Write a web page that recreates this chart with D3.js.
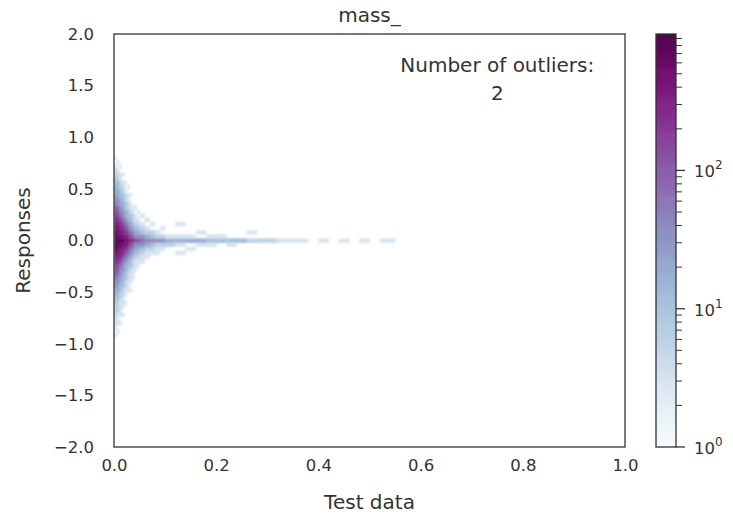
<!DOCTYPE html>
<html>
<head>
<meta charset="utf-8">
<script src="https://cdn.jsdelivr.net/npm/d3@7.9.0/dist/d3.min.js"></script>
<style>
  body { margin: 0; background: #fff; }
  svg text { font-family: "DejaVu Sans", sans-serif; fill: #333; }
</style>
</head>
<body>
<svg width="733" height="518"></svg>
<script>
// 2D histogram: bin edges along x, rows of 0.04 centred on y = 0
const xEdges = [0, 0.005, 0.01, 0.015, 0.02, 0.025, 0.03, 0.035, 0.04, 0.045, 0.05,
  0.06, 0.07, 0.08, 0.09, 0.1, 0.12, 0.14, 0.16, 0.18, 0.2, 0.22, 0.24, 0.26, 0.28,
  0.3, 0.32, 0.34, 0.36, 0.38, 0.4, 0.42, 0.44, 0.46, 0.48, 0.5, 0.52, 0.55];
const yBin = 0.04;

// each character is a count level (index into levelCounts)
const levelCodes = ".123456789a";
const levelCounts = [0, 3, 6, 12, 20, 40, 80, 150, 280, 500, 900];

// per x column: counts going up from the y = 0 row, and going down
const profileUp = [
  "aaa9988776554433221.1", "aa9988776554433221.1", "a9988765544332211.1", "a98876554433221.1",
  "9987654433221.1", "987654332211.1", "8765433211.1", "865432211",
  "7543211.1", "754321.1", "65321.1", "5421.1",
  "532.1", "521", "52.1", "41",
  "41..1", "41", "4.1", "31",
  "31", "3", "3", "2.1",
  "2", "2", "1", "1", "1", ".", "1",
  ".", "1", ".", "1", ".", "1"
];
const profileDown = [
  "aaa9988776554433222111.1", "aa9988776554433222111.1", "a998876554433221111.1", "a9887655443322111.1",
  "99876544332211.1", "9876543322111", "87654332111.1", "8654322111",
  "75432111", "7543211", "653211", "54211",
  "5321", "5211", "521", "42",
  "41.1", "4.1", "41", "41",
  "3", "31", "2", "2",
  "1", "1", "1", ".", "1", "1", ".",
  ".", ".", ".", ".", ".", "."
];

const xTicks = [0, 0.2, 0.4, 0.6, 0.8, 1.0];
const yTicks = [-2, -1.5, -1, -0.5, 0, 0.5, 1, 1.5, 2];
const cbarMajor = [1, 10, 100];
const cbarMinor = [2, 3, 4, 5, 6, 7, 8, 9, 20, 30, 40, 50, 60, 70, 80, 90,
  200, 300, 400, 500, 600, 700, 800, 900];
const countMax = 970;

const plotLeft = 114, plotRight = 625, plotTop = 34, plotBottom = 447;
const svg = d3.select('svg');

const x = d3.scaleLinear().domain([0, 1]).range([plotLeft, plotRight]);
const y = d3.scaleLinear().domain([-2, 2]).range([plotBottom, plotTop]);
const color = d3.scaleSequentialLog(d3.interpolateBuPu).domain([1, countMax]);

// build the cells from the profiles
let cells = [];
profileUp.forEach((s, i) => {
  for (let d = 0; d < s.length; d++) {
    let c = levelCounts[levelCodes.indexOf(s[d])];
    if (c > 0) cells.push({ x0: xEdges[i], x1: xEdges[i + 1], y0: d * yBin - yBin / 2, y1: d * yBin + yBin / 2, c: c });
  }
});
profileDown.forEach((s, i) => {
  for (let d = 1; d < s.length; d++) {
    let c = levelCounts[levelCodes.indexOf(s[d])];
    if (c > 0) cells.push({ x0: xEdges[i], x1: xEdges[i + 1], y0: -d * yBin - yBin / 2, y1: -d * yBin + yBin / 2, c: c });
  }
});

let defs = svg.append('defs');
defs.append('clipPath').attr('id', 'plotclip')
  .append('rect').attr('x', plotLeft).attr('y', plotTop)
  .attr('width', plotRight - plotLeft).attr('height', plotBottom - plotTop);
defs.append('filter').attr('id', 'soft')
  .attr('x', -0.1).attr('y', -0.1).attr('width', 1.2).attr('height', 1.2)
  .append('feGaussianBlur').attr('stdDeviation', 1.1);

svg.append('g')
  .attr('clip-path', 'url(#plotclip)')
  .append('g')
  .attr('filter', 'url(#soft)')
  .selectAll('rect')
  .data(cells)
  .join('rect')
  .attr('x', d => x(d.x0))
  .attr('y', d => y(d.y1))
  .attr('width', d => x(d.x1) - x(d.x0) + 0.3)
  .attr('height', d => y(d.y0) - y(d.y1) + 0.3)
  .attr('fill', d => color(d.c));

// frame
svg.append('rect')
  .attr('x', plotLeft).attr('y', plotTop)
  .attr('width', plotRight - plotLeft).attr('height', plotBottom - plotTop)
  .attr('fill', 'none').attr('stroke', '#333').attr('stroke-width', 1.3);

// axes (no tick marks, seaborn white style)
let xAxis = svg.append('g').attr('transform', `translate(0,${plotBottom})`)
  .call(d3.axisBottom(x).tickValues(xTicks).tickSize(0).tickPadding(12).tickFormat(d3.format('.1f')));
let yAxis = svg.append('g').attr('transform', `translate(${plotLeft},0)`)
  .call(d3.axisLeft(y).tickValues(yTicks).tickSize(0).tickPadding(20).tickFormat(d3.format('.1f')));
[xAxis, yAxis].forEach(a => {
  a.select('.domain').remove();
  a.selectAll('text').attr('font-size', 16.5).attr('font-family', 'DejaVu Sans').attr('fill', '#333');
});

// labels
svg.append('text').attr('x', (plotLeft + plotRight) / 2).attr('y', 509)
  .attr('text-anchor', 'middle').attr('font-size', 20).text('Test data');
svg.append('text').attr('transform', `translate(30,${(plotTop + plotBottom) / 2}) rotate(-90)`)
  .attr('text-anchor', 'middle').attr('font-size', 20).text('Responses');
svg.append('text').attr('x', (plotLeft + plotRight) / 2).attr('y', 22)
  .attr('text-anchor', 'middle').attr('font-size', 20).text('mass_');
svg.append('text').attr('x', x(0.75)).attr('y', 72)
  .attr('text-anchor', 'middle').attr('font-size', 20).text('Number of outliers:');
svg.append('text').attr('x', x(0.75)).attr('y', 100)
  .attr('text-anchor', 'middle').attr('font-size', 20).text('2');

// colorbar
const cbLeft = 656, cbRight = 676;
const cb = d3.scaleLog().domain([1, countMax]).range([plotBottom, plotTop]);
let steps = d3.range(0, 200);
svg.append('g').selectAll('rect')
  .data(steps)
  .join('rect')
  .attr('x', cbLeft)
  .attr('width', cbRight - cbLeft)
  .attr('y', i => plotTop + (plotBottom - plotTop) * i / 200)
  .attr('height', (plotBottom - plotTop) / 200 + 0.6)
  .attr('fill', i => color(cb.invert(plotTop + (plotBottom - plotTop) * (i + 0.5) / 200)));
svg.append('rect')
  .attr('x', cbLeft).attr('y', plotTop)
  .attr('width', cbRight - cbLeft).attr('height', plotBottom - plotTop)
  .attr('fill', 'none').attr('stroke', '#333').attr('stroke-width', 1.3);

let cbg = svg.append('g');
cbg.selectAll('line.minor').data(cbarMinor).join('line')
  .attr('class', 'minor')
  .attr('x1', cbRight).attr('x2', cbRight + 6)
  .attr('y1', d => cb(d)).attr('y2', d => cb(d))
  .attr('stroke', '#333').attr('stroke-width', 1);
cbg.selectAll('line.major').data(cbarMajor).join('line')
  .attr('class', 'major')
  .attr('x1', cbRight).attr('x2', cbRight + 9)
  .attr('y1', d => cb(d)).attr('y2', d => cb(d))
  .attr('stroke', '#333').attr('stroke-width', 1.3);
let lab = cbg.selectAll('text').data(cbarMajor).join('text')
  .attr('x', cbRight + 18)
  .attr('y', d => cb(d) + 7)
  .attr('font-size', 16.5);
lab.append('tspan').text('10');
lab.append('tspan').attr('dy', -8).attr('font-size', 12).text(d => Math.round(Math.log10(d)));
</script>
</body>
</html>
